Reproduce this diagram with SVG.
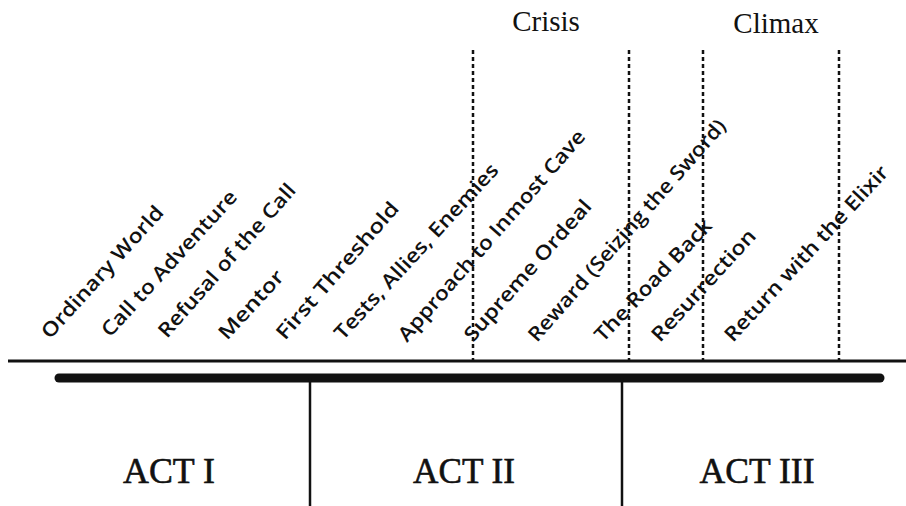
<svg xmlns="http://www.w3.org/2000/svg" width="906" height="506" viewBox="0 0 906 506">
<style>
.lbl{font-family:"Open Sans","Noto Sans","Liberation Sans",sans-serif;font-size:20px;font-weight:600;fill:#111}
.act{font-family:"Liberation Serif","Times New Roman",serif;font-size:36px;fill:#111;text-anchor:middle;stroke:#111;stroke-width:0.6}
.top{font-family:"Liberation Serif","Times New Roman",serif;font-size:29px;fill:#111;text-anchor:middle}
.dash{stroke:#111;stroke-width:2.5;stroke-dasharray:4 3;fill:none}
.solid{stroke:#111;fill:none}
</style>
<rect width="906" height="506" fill="#fff"/>
<g id="connectors">
<line class="solid" x1="8" y1="361" x2="906" y2="361" stroke-width="3"/>
<line class="solid" x1="59" y1="378" x2="880" y2="378" stroke-width="9" stroke-linecap="round"/>
<line class="solid" x1="310" y1="378" x2="310" y2="506" stroke-width="2.5"/>
<line class="solid" x1="622" y1="378" x2="622" y2="506" stroke-width="2.5"/>
<line class="dash" x1="473" y1="50" x2="473" y2="361"/>
<line class="dash" x1="629" y1="50" x2="629" y2="361"/>
<line class="dash" x1="703" y1="50" x2="703" y2="361"/>
<line class="dash" x1="839" y1="50" x2="839" y2="361"/>
</g>
<g id="crisis"><text class="top" x="546" y="31">Crisis</text></g>
<g id="climax"><text class="top" x="776" y="33">Climax</text></g>
<g id="stages">
<text class="lbl" transform="translate(50,340) rotate(-47.8)" textLength="171" lengthAdjust="spacingAndGlyphs">Ordinary World</text>
<text class="lbl" transform="translate(110,338) rotate(-47.5)" textLength="190" lengthAdjust="spacingAndGlyphs">Call to Adventure</text>
<text class="lbl" transform="translate(167,339) rotate(-48.7)" textLength="197" lengthAdjust="spacingAndGlyphs">Refusal of the Call</text>
<text class="lbl" transform="translate(227,341) rotate(-47.4)" textLength="86" lengthAdjust="spacingAndGlyphs">Mentor</text>
<text class="lbl" transform="translate(285,341) rotate(-48.9)" textLength="175" lengthAdjust="spacingAndGlyphs">First Threshold</text>
<text class="lbl" transform="translate(343,341) rotate(-47.3)" textLength="231" lengthAdjust="spacingAndGlyphs">Tests, Allies, Enemies</text>
<text class="lbl" transform="translate(407,343) rotate(-48.9)" textLength="273" lengthAdjust="spacingAndGlyphs">Approach to Inmost Cave</text>
<text class="lbl" transform="translate(473,343) rotate(-48.6)" textLength="181" lengthAdjust="spacingAndGlyphs">Supreme Ordeal</text>
<text class="lbl" transform="translate(537,343) rotate(-48.7)" textLength="288" lengthAdjust="spacingAndGlyphs">Reward (Seizing the Sword)</text>
<text class="lbl" transform="translate(603,343) rotate(-46.5)" textLength="160" lengthAdjust="spacingAndGlyphs">The Road Back</text>
<text class="lbl" transform="translate(660,343) rotate(-47.5)" textLength="144" lengthAdjust="spacingAndGlyphs">Resurrection</text>
<text class="lbl" transform="translate(733,343) rotate(-47.3)" textLength="231" lengthAdjust="spacingAndGlyphs">Return with the Elixir</text>
</g>
<g id="act1"><text class="act" x="169" y="483" textLength="92" lengthAdjust="spacingAndGlyphs">ACT I</text></g>
<g id="act2"><text class="act" x="464" y="483" textLength="102" lengthAdjust="spacingAndGlyphs">ACT II</text></g>
<g id="act3"><text class="act" x="757" y="483" textLength="115" lengthAdjust="spacingAndGlyphs">ACT III</text></g>
</svg>
